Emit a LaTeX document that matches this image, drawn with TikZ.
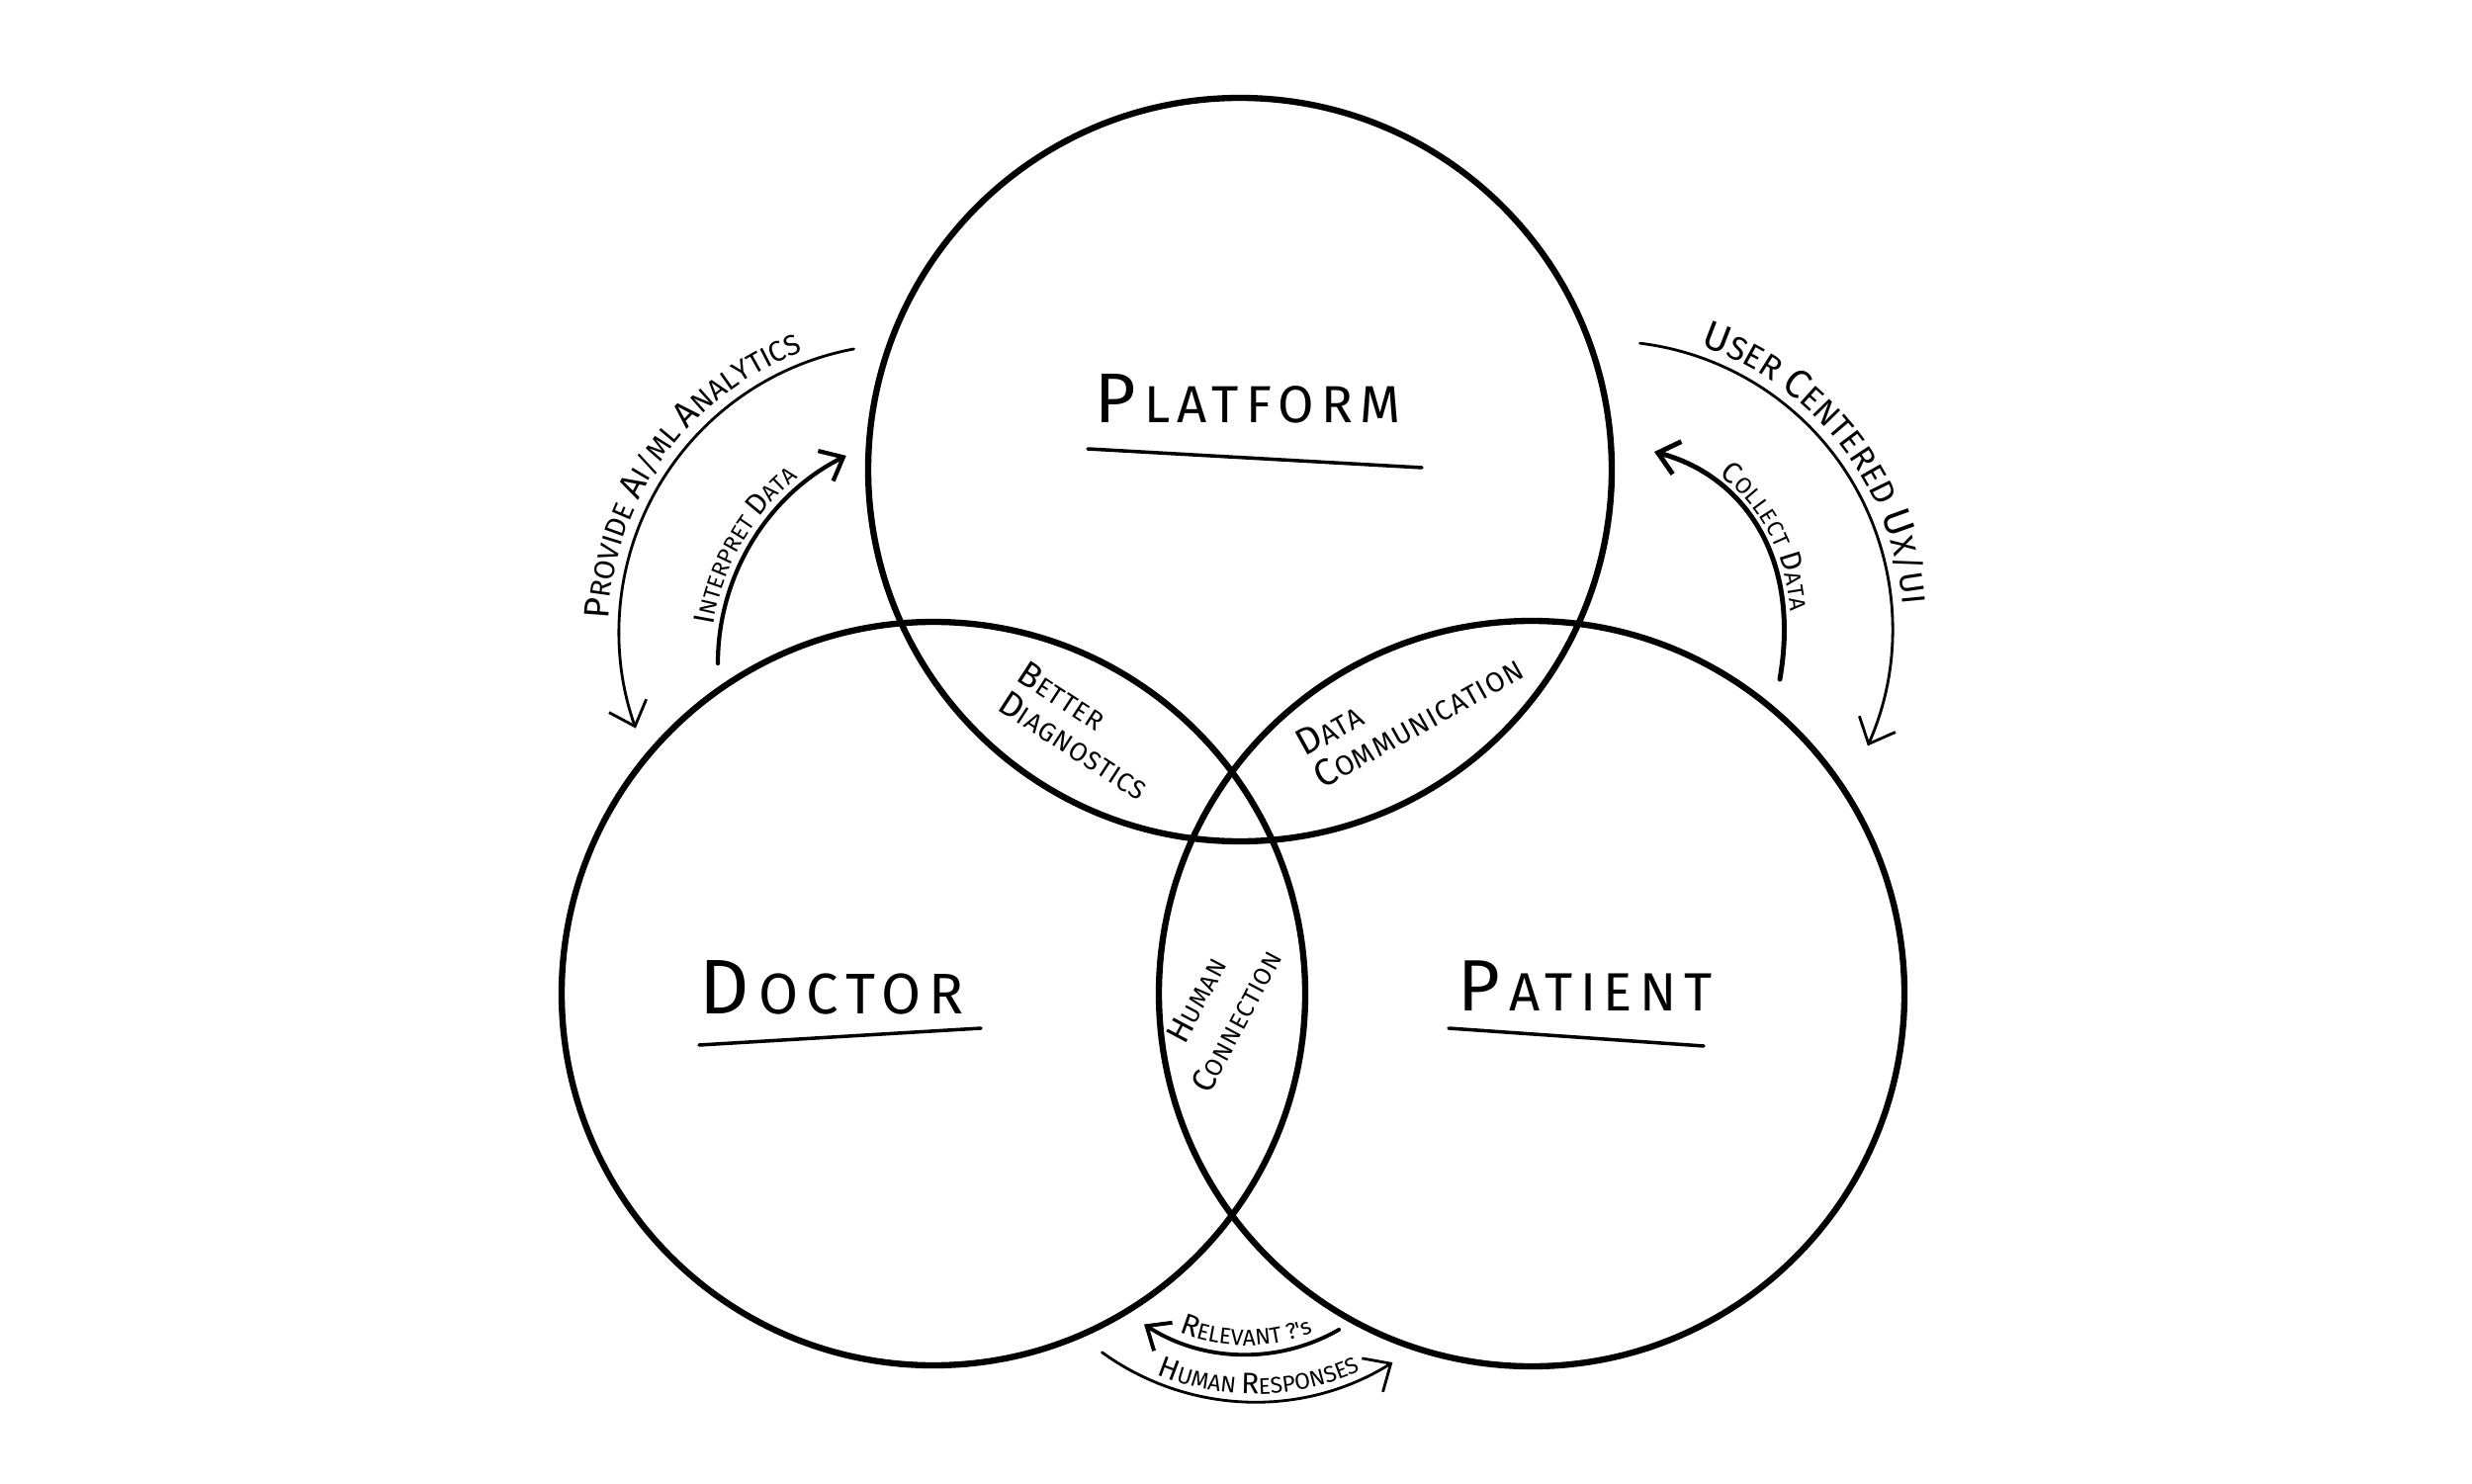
\documentclass[tikz,border=0pt]{standalone}
\usepackage{graphicx}
\usepackage{fontspec}
\newfontfamily\hand[LetterSpace=14]{Fira Sans}
\newfontfamily\lens[LetterSpace=4]{Fira Sans}
\newfontfamily\arcfam{Fira Sans}
\usetikzlibrary{arrows.meta,decorations.text}

% hand-lettered look: first letter a size up
\newcommand{\cp}[1]{\scalebox{1.35}{#1}}
\newcommand{\arcsm}{\arcfam\fontsize{8.2}{8.2}\selectfont}
\newcommand{\arcbg}{\arcfam\fontsize{10.2}{10.2}\selectfont}
\newcommand{\arcsmb}{\arcfam\fontsize{9.5}{9.5}\selectfont}
\newcommand{\arcbgb}{\arcfam\fontsize{11.5}{11.5}\selectfont}
\newcommand{\arcti}{\arcfam\fontsize{6.5}{6.5}\selectfont}
\newcommand{\arctib}{\arcfam\fontsize{8.5}{8.5}\selectfont}

\tikzset{
  set/.style={line width=1.8pt},
  uline/.style={line width=1pt, line cap=round},
  thinarrow/.style={line width=0.8pt, line cap=round, -{Straight Barb[length=2.2mm,width=4mm]}},
  thickarrow/.style={line width=1.2pt, line cap=round, -{Straight Barb[length=2mm,width=3.4mm]}},
  biglabel/.style={font=\hand\fontsize{#1}{18}\selectfont, anchor=base, inner sep=0pt},
  lenslabel/.style={font=\lens\fontsize{7.5}{10}\selectfont, align=left, inner sep=0pt},
  arclabel/.style={decorate, decoration={text along path, text align=center, #1}},
}

\begin{document}
\begin{tikzpicture}
        \path[use as bounding box, fill=white] (0,0) rectangle (25,15);

        % Centres
        \coordinate (platform) at (12.54,10.25);
        \coordinate (doctor) at (9.44,4.95);
        \coordinate (patient) at (15.49,4.95);

        % The three sets
        \draw[set] (platform) circle[radius=3.76];
        \draw[set] (doctor) circle[radius=3.76];
        \draw[set] (patient) circle[radius=3.77];

        % Set names
        \node[biglabel=15] (platlbl) at (12.62,10.72) {\cp{P}\,LATFORM};
        \draw[uline] (11.00,10.46) coordinate (pl1) -- (14.38,10.27) coordinate (pl2);
        \node[biglabel=16.5] (doclbl) at (8.41,4.75) {\cp{D}\,OCTOR};
        \draw[uline] (7.07,4.43) coordinate (dl1) -- (9.92,4.60) coordinate (dl2);
        \node[biglabel=15.5] (patlbl) at (16.03,4.78) {\cp{P}\,ATIENT};
        \draw[uline] (14.65,4.60) coordinate (pa1) -- (17.23,4.42) coordinate (pa2);

        % Overlaps
        \node[lenslabel, rotate=-33] (better) at (10.96,7.61) {\cp{B}ETTER\\\cp{D}IAGNOSTICS};
        \node[lenslabel, rotate=29, font=\lens\fontsize{8}{10.5}\selectfont] (datacom) at (14.25,7.86) {\cp{D}ATA\\\cp{C}OMMUNICATION};
        \node[lenslabel, rotate=62, align=center, font=\lens\fontsize{7}{9}\selectfont] (human) at (12.30,4.78) {\cp{H}UMAN\\[4pt]\cp{C}ONNECTION};

        % Left arrows
        \coordinate (lo) at (9.17,8.61);
        \coordinate (li) at (9.61,8.29);
        \draw[thinarrow] ([shift={(100.6:2.91)}]lo) arc[start angle=100.6, end angle=199.6, radius=2.91];
        \path[arclabel={text={|\arcbg|P|\arcsm|ROVIDE |\arcbg|A|\arcsm|I/ML |\arcbg|A|\arcsm|NALYTICS}}]
          ([shift={(192:3.02)}]lo) arc[start angle=192, end angle=96, radius=3.02];
        \draw[thickarrow] ([shift={(180:2.35)}]li) arc[start angle=180, end angle=116.6, radius=2.35];
        \path[arclabel={text={|\arctib|I|\arcti|NTERPRET |\arctib|D|\arcti|ATA}}]
          ([shift={(195:2.43)}]li) arc[start angle=195, end angle=105, radius=2.43];

        % Right arrows
        \coordinate (ro) at (16.23,8.64);
        \draw[thinarrow] ([shift={(83:2.91)}]ro) arc[start angle=83, end angle=-24, radius=2.91];
        \path[arclabel={text={|\arcbgb|U|\arcsmb|SER |\arcbgb|C|\arcsmb|ENTERED |\arcbgb|U|\arcsmb|X/UI}}]
          ([shift={(84:3.02)}]ro) arc[start angle=84, end angle=-8, radius=3.02];
        \draw[thickarrow, line width=1.4pt] (18.00,8.13) coordinate (cd1) .. controls (18.22,9.40) and (17.60,10.20) .. (16.73,10.43) coordinate (cd2);
        \path[arclabel={raise=2pt, text={|\arctib|C|\arcti|OLLECT |\arctib|D|\arcti|ATA}}]
          (cd2) .. controls (17.60,10.20) and (18.22,9.40) .. (cd1);

        % Bottom arrows
        \coordinate (rq) at (12.60,3.19);
        \coordinate (hr) at (12.69,3.45);
        \draw[thickarrow, line width=1.1pt] ([shift={(-60:1.89)}]rq) arc[start angle=-60, end angle=-123, radius=1.89];
        \path[arclabel={text={|\arctib|R|\arcti|ELEVANT ?'s}}]
          ([shift={(-125:1.80)}]rq) arc[start angle=-125, end angle=-55, radius=1.80];
        \draw[thinarrow] ([shift={(-126:2.63)}]hr) arc[start angle=-126, end angle=-58, radius=2.63];
        \path[arclabel={text={|\arctib|H|\arcti|UMAN |\arctib|R|\arcti|ESPONSES}}]
          ([shift={(-125:2.55)}]hr) arc[start angle=-125, end angle=-53, radius=2.55];
\end{tikzpicture}
\end{document}
